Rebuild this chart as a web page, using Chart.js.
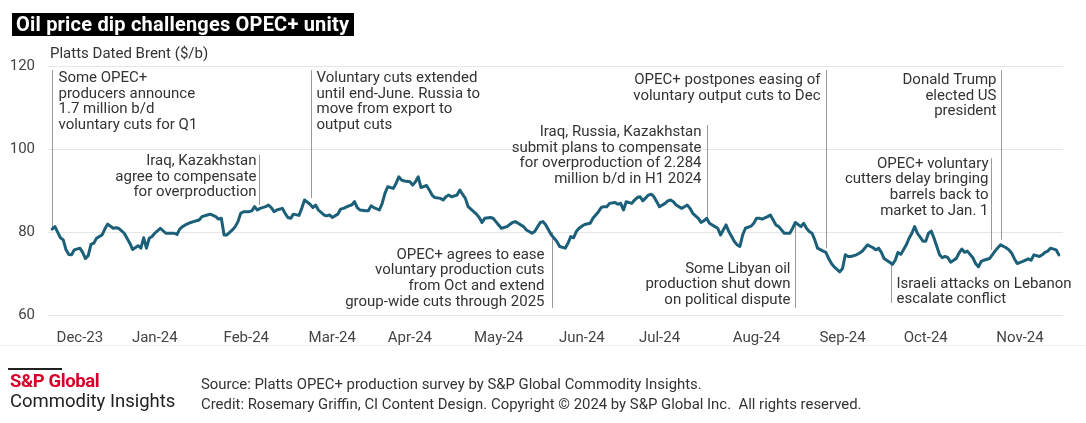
<!DOCTYPE html>
<html>
<head>
<meta charset="utf-8">
<script src="https://cdn.jsdelivr.net/npm/chart.js@4.4.1/dist/chart.umd.min.js"></script>
<style>
body{margin:0;background:#fff;font-family:Roboto,"Liberation Sans",sans-serif;}
#wrap{position:relative;width:1086px;height:423px;overflow:hidden;background:#fff}
#c{position:absolute;left:0;top:0}
.t{position:absolute;white-space:nowrap}
</style>
</head>
<body>
<div id="wrap">
  <canvas id="c" width="1086" height="423"></canvas>
  <div class="t" style="left:12px;top:13px;height:23px;line-height:23px;background:#000;color:#fff;font-weight:700;font-size:20px;letter-spacing:0.2px;padding:0 5px 0 4px">Oil price dip challenges OPEC+ unity</div>
  <div class="t" style="left:50px;top:44px;font-size:15px;color:#333">Platts Dated Brent ($/b)</div>
  <div style="position:absolute;left:0;top:345px;width:1086px;height:1px;background:#eee"></div>
  <div style="position:absolute;left:8px;top:368px;width:54px;height:2px;background:#222"></div>
  <div class="t" style="left:10px;top:370px;font-size:18.5px;font-weight:700;color:#d6002a;letter-spacing:-0.4px">S&amp;P Global</div>
  <div class="t" style="left:10px;top:390px;font-size:18.5px;color:#222">Commodity Insights</div>
  <div class="t" style="left:201px;top:375px;font-size:14.9px;color:#333">Source: Platts OPEC+ production survey by S&amp;P Global Commodity Insights.</div>
  <div class="t" style="left:201px;top:395px;font-size:14.9px;color:#333">Credit: Rosemary Griffin, CI Content Design. Copyright © 2024 by S&amp;P Global Inc.&nbsp; All rights reserved.</div>
</div>
<script>
// days since 30 Nov 2023
const days = [0,1,3,4,5,6,7,8,10,11,12,13,14,15,16,18,19,20,22,23,24,26,27,28,29,31,32,33,34,35,36,37,39,40,41,42,44,45,46,47,48,50,51,52,53,54,56,57,59,60,61,62,63,65,66,67,68,69,71,72,73,74,75,77,78,79,80,81,83,84,85,86,87,
  89,90,91,93,94,95,96,98,99,100,101,103,104,105,107,108,109,110,111,113,114,115,116,118,119,120,121,123,124,125,126,127,129,130,131,132,133,135,136,137,138,140,141,142,143,144,146,147,148,149,150,152,153,154,155,156,158,159,160,161,162,164,165,166,167,168,170,171,172,173,174,176,177,178,179,180,
  182,183,185,186,187,188,189,190,191,192,194,195,197,198,199,200,201,203,204,205,206,207,209,210,211,212,213,215,216,217,218,219,221,222,223,224,225,227,228,229,230,231,233,234,235,236,237,239,240,241,242,243,244,246,247,248,249,250,252,253,254,255,256,258,259,260,261,262,264,265,266,267,268,270,271,272,273,274,
  275,276,278,279,280,281,282,284,285,286,287,288,290,291,292,293,294,296,297,298,299,300,302,303,304,305,306,308,309,310,311,312,314,315,316,317,318,320,321,322,323,324,326,327,328,329,330,332,333,334,335,336,338,339,340,341,342,344,345,346,347,348,350,351,352,353,354,356,357,358,359,360,362,363];

// Platts Dated Brent, $/b
const brent = [80.7,81.3,78.6,78.1,75.7,74.6,74.5,75.7,76.1,75.1,73.6,74.3,77.0,77.3,78.5,79.3,80.7,81.9,80.9,81.0,80.9,79.7,78.5,77.3,75.8,76.7,76.1,78.6,76.1,78.5,78.9,79.7,80.9,80.3,79.7,79.7,79.7,79.4,80.7,81.3,81.7,82.3,82.5,82.7,82.9,83.7,84.1,84.3,83.7,83.1,83.3,79.3,79.3,80.5,81.3,82.5,84.5,84.9,84.9,85.1,86.1,85.3,85.7,86.1,86.5,85.9,84.9,85.3,85.7,84.5,83.5,83.3,84.3,
  84.0,85.7,87.7,86.7,85.9,86.5,85.3,84.1,83.9,84.1,83.5,84.3,85.5,85.7,86.3,86.5,87.3,85.9,85.3,85.1,85.1,86.3,85.9,85.3,86.9,89.3,90.9,90.5,91.7,93.3,92.5,92.3,92.1,91.3,92.1,93.3,90.7,91.2,90.1,88.9,88.3,88.1,87.7,88.5,88.9,88.5,88.9,90.1,89.1,88.1,86.1,84.9,84.3,83.5,82.3,83.3,83.5,83.3,82.5,81.7,80.9,81.3,81.8,82.3,82.5,82.1,81.3,80.5,80.1,79.7,80.1,82.3,82.5,81.7,80.5,79.3,
  77.7,76.5,76.1,77.3,78.9,78.6,80.1,80.9,81.4,81.8,82.1,83.3,84.9,85.9,86.1,86.1,86.9,87.1,86.7,86.9,85.3,87.3,86.9,87.7,88.3,88.5,87.5,88.9,89.1,88.5,87.3,86.1,86.9,87.5,87.7,87.3,86.5,85.7,86.1,86.5,85.7,84.5,83.3,82.3,82.7,83.3,82.1,81.3,80.9,79.3,80.5,81.7,80.1,77.7,76.9,76.5,79.3,80.9,81.4,82.1,83.3,83.3,83.1,83.7,84.1,82.9,81.7,81.3,79.7,79.7,79.7,80.9,82.3,81.3,82.1,80.9,80.1,79.7,
  78.1,76.1,75.4,75.1,73.6,72.4,71.6,70.4,71.2,74.5,74.1,74.1,74.5,74.9,75.3,76.1,76.9,76.2,75.7,76.1,75.1,73.6,72.7,72.2,73.2,75.1,74.6,76.9,78.5,79.7,81.3,79.7,77.8,77.8,79.7,80.2,78.5,74.5,73.8,74.1,73.8,72.7,73.6,74.9,75.9,75.1,75.4,73.8,72.4,71.6,72.9,73.2,73.6,74.5,75.4,76.2,76.9,76.2,75.7,74.9,73.5,72.4,72.9,73.2,73.5,73.2,74.5,74.1,74.5,75.1,75.4,76.1,75.7,74.5];

const monthLabels = ["Dec-23","Jan-24","Feb-24","Mar-24","Apr-24","May-24","Jun-24","Jul-24","Aug-24","Sep-24","Oct-24","Nov-24"];
const monthTickDays = [10,37,70,101,129,161,191,219,254,285,315,349];
const yTicks = [60,80,100,120];

// event notes: day of event, line span and first text row (in $/b)
const notes = [
  {day:0, from:119.0, to:80.7, textY:117.1, side:"right", gap:6,
   lines:["Some OPEC+","producers announce","1.7 million b/d","voluntary cuts for Q1"]},
  {day:74.5, from:98.6, to:86.5, textY:97.1, side:"left", gap:3,
   lines:["Iraq, Kazakhstan","agree to compensate","for overproduction"]},
  {day:93.2, from:119.0, to:88.2, textY:117.1, side:"right", gap:5,
   lines:["Voluntary cuts extended","until end-June. Russia to","move from export to","output cuts"]},
  {day:180.2, from:80.0, to:61.7, textY:74.5, side:"left", gap:8,
   lines:["OPEC+ agrees to ease","voluntary production cuts","from Oct and extend","group-wide cuts through 2025"]},
  {day:236.3, from:105.8, to:83.4, textY:104.1, side:"left", gap:6,
   lines:["Iraq, Russia, Kazakhstan","submit plans to compensate","for overproduction of 2.284","million b/d in H1 2024"]},
  {day:268, from:82.4, to:61.7, textY:71.1, side:"left", gap:5,
   lines:["Some Libyan oil","production shut down","on political dispute"]},
  {day:279.1, from:119.0, to:76.1, textY:116.6, side:"left", gap:6,
   lines:["OPEC+ postpones easing of","voluntary output cuts to Dec"]},
  {day:302.5, from:72.8, to:62.9, textY:67.5, side:"right", gap:5,
   lines:["Israeli attacks on Lebanon","escalate conflict"]},
  {day:338.5, from:97.8, to:75.7, textY:96.4, side:"left", gap:3,
   lines:["OPEC+ voluntary","cutters delay bringing","barrels back to","market to Jan. 1"]},
  {day:342.1, from:119.0, to:78.1, textY:116.6, side:"left", gap:5,
   lines:["Donald Trump","elected US","president"]}
];

const FONT = 'Roboto, "Liberation Sans", sans-serif';

const notesPlugin = {
  id: "notes",
  beforeDatasetsDraw(chart) {
    const {ctx, scales: {x, y}} = chart;
    ctx.save();
    ctx.strokeStyle = "#9a9a9a";
    ctx.lineWidth = 1;
    notes.forEach(n => {
      const px = Math.round(x.getPixelForValue(n.day)) + 0.5;
      ctx.beginPath();
      ctx.moveTo(px, y.getPixelForValue(n.from));
      ctx.lineTo(px, y.getPixelForValue(n.to));
      ctx.stroke();
    });
    ctx.restore();
  },
  afterDatasetsDraw(chart) {
    const {ctx, scales: {x, y}} = chart;
    ctx.save();
    ctx.fillStyle = "#333";
    ctx.font = "15px " + FONT;
    ctx.textBaseline = "middle";
    notes.forEach(n => {
      const px = Math.round(x.getPixelForValue(n.day)) + 0.5;
      const right = n.side === "right";
      ctx.textAlign = right ? "left" : "right";
      const tx = right ? px + n.gap : px - n.gap;
      const ty = y.getPixelForValue(n.textY);
      n.lines.forEach((l, i) => ctx.fillText(l, tx, ty + i * 15.8));
    });
    ctx.restore();
  }
};

function draw() {
  new Chart(document.getElementById("c"), {
    type: "line",
    data: {
      datasets: [{
        label: "Platts Dated Brent",
        data: days.map((d, i) => ({x: d, y: brent[i]})),
        borderColor: "#1b5f79",
        borderWidth: 3,
        pointRadius: 0,
        tension: 0,
        borderJoinStyle: "round",
        borderCapStyle: "round"
      }]
    },
    options: {
      responsive: false,
      animation: false,
      layout: {padding: {left: 8, top: 66, right: 23, bottom: 78}},
      plugins: {legend: {display: false}, tooltip: {enabled: false}},
      scales: {
        x: {
          type: "linear",
          min: -1.5,
          max: 364.5,
          afterFit: s => { s.height = 30; },
          afterBuildTicks: s => { s.ticks = monthTickDays.map(v => ({value: v})); },
          grid: {display: false},
          border: {display: false},
          ticks: {
            autoSkip: false, maxRotation: 0, padding: 6,
            color: "#444", font: {family: FONT, size: 15},
            callback: (v, i) => monthLabels[i]
          }
        },
        y: {
          min: 60,
          max: 120,
          afterFit: s => { s.width = 40; },
          afterBuildTicks: s => { s.ticks = yTicks.map(v => ({value: v})); },
          grid: {color: "#e6e6e6", drawTicks: false},
          border: {display: false},
          ticks: {padding: 13, color: "#444", font: {family: FONT, size: 15}}
        }
      }
    },
    plugins: [notesPlugin]
  });
}

if (document.fonts && document.fonts.load) {
  document.fonts.load("15px Roboto").then(draw, draw);
} else {
  draw();
}
</script>
</body>
</html>
